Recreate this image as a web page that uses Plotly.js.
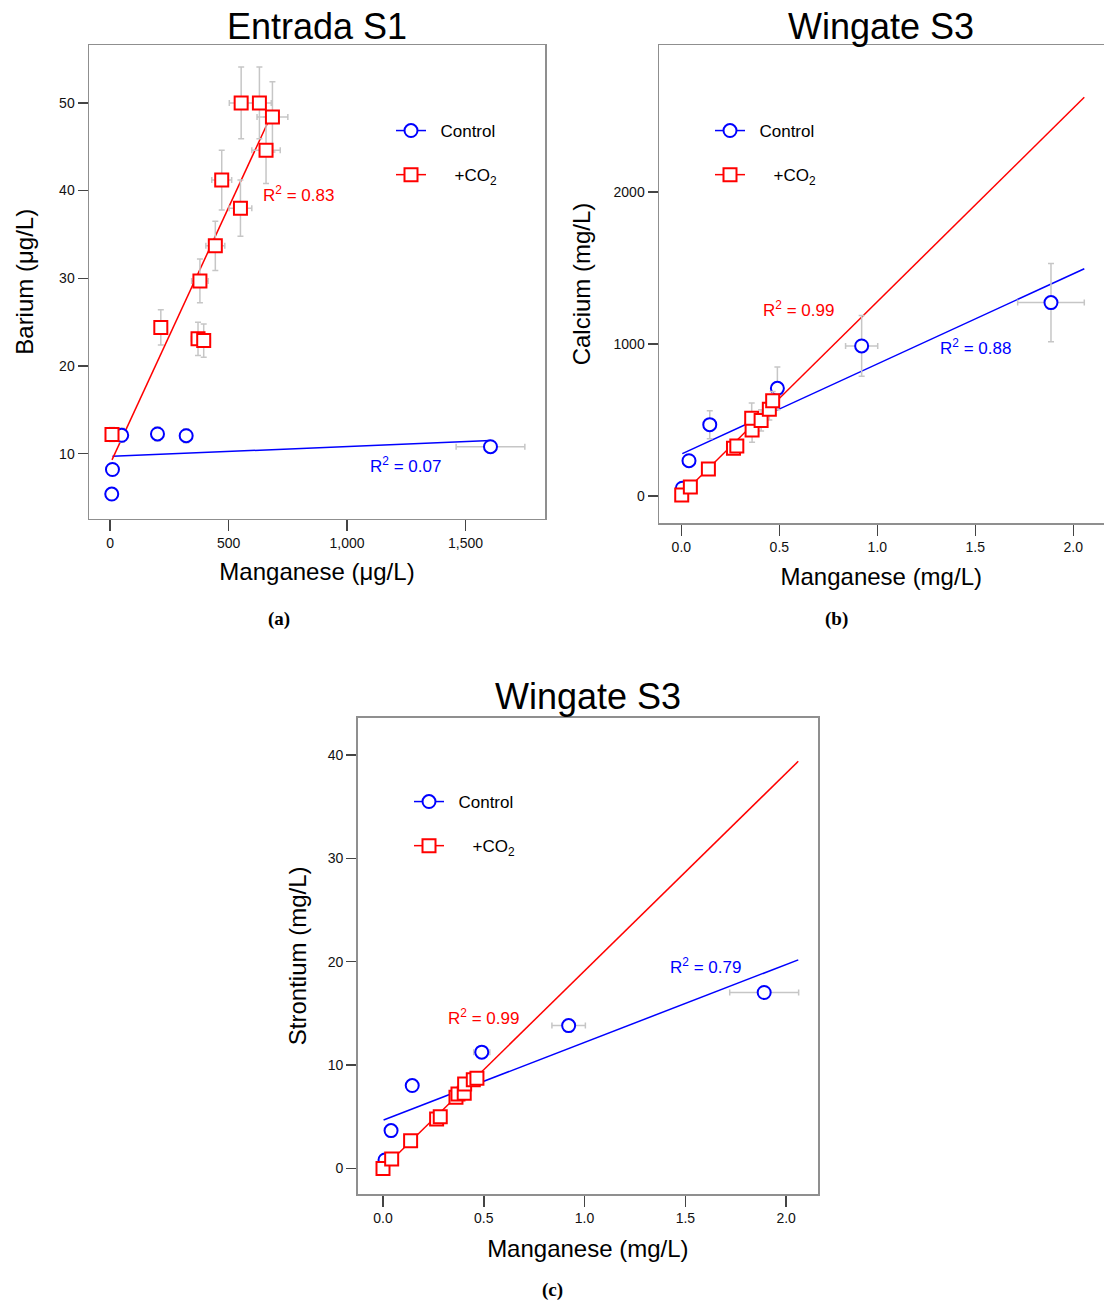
<!DOCTYPE html>
<html>
<head>
<meta charset="utf-8">
<script src="https://cdn.plot.ly/plotly-3.0.1.min.js"></script>
<style>html,body{margin:0;padding:0;background:#fff;}#chart{width:1104px;height:1301px;}</style>
</head>
<body>
<div id="chart"></div>
<script>
// ---------- Panel (a): Entrada S1, Barium vs Manganese (µg/L) ----------
var ctrlA_x    = [10, 7, 49, 200, 321, 1605];
var ctrlA_y    = [8.2, 5.4, 12.1, 12.25, 12.05, 10.8];
var ctrlA_xerr = [3, 3, 12, 15, 15, 145];
var ctrlA_yerr = [0.3, 0.3, 0.8, 0.8, 0.8, 0.3];

var co2A_x    = [8, 214, 371, 395, 379, 444, 550, 471, 658, 553, 630, 685];
var co2A_y    = [12.2, 24.4, 23.1, 22.9, 29.7, 33.7, 38.0, 41.2, 44.6, 50.0, 50.0, 48.4];
var co2A_xerr = [15, 10, 28, 28, 35, 40, 48, 42, 60, 50, 50, 65];
var co2A_yerr = [0.8, 2.0, 1.9, 1.9, 2.5, 2.8, 3.2, 3.4, 3.8, 4.1, 4.1, 4.0];

var fitCtrlA_x = [10, 1605];
var fitCtrlA_y = [9.7, 11.5];
var fitCo2A_x  = [8, 685];
var fitCo2A_y  = [9.3, 48.9];

// ---------- Panel (b): Wingate S3, Calcium vs Manganese (mg/L) ----------
var ctrlB_x    = [0.005, 0.039, 0.145, 0.49, 0.92, 1.886];
var ctrlB_y    = [51, 232, 469, 708, 987, 1272];
var ctrlB_xerr = [0.005, 0.01, 0.01, 0.02, 0.082, 0.17];
var ctrlB_yerr = [10, 20, 92, 141, 200, 258];

var co2B_x    = [0.002, 0.046, 0.138, 0.266, 0.283, 0.361, 0.359, 0.407, 0.449, 0.466];
var co2B_y    = [6, 59, 178, 314, 329, 434, 511, 497, 570, 627];
var co2B_xerr = [0.003, 0.005, 0.008, 0.01, 0.01, 0.015, 0.015, 0.02, 0.02, 0.02];
var co2B_yerr = [5, 10, 20, 40, 40, 80, 100, 70, 70, 60];

var fitCtrlB_x = [0.005, 2.056];
var fitCtrlB_y = [278, 1495];
var fitCo2B_x  = [0.0, 2.056];
var fitCo2B_y  = [5, 2623];

// ---------- Panel (c): Wingate S3, Strontium vs Manganese (mg/L) ----------
var ctrlC_x    = [0.01, 0.04, 0.145, 0.49, 0.921, 1.891];
var ctrlC_y    = [0.82, 3.66, 8.02, 11.25, 13.82, 17.02];
var ctrlC_xerr = [0.005, 0.005, 0.01, 0.04, 0.083, 0.171];
var ctrlC_yerr = [0.1, 0.1, 0.2, 0.2, 0.2, 0.2];

var co2C_x    = [0.0, 0.043, 0.137, 0.266, 0.284, 0.362, 0.372, 0.403, 0.405, 0.448, 0.466];
var co2C_y    = [0.0, 0.92, 2.69, 4.79, 5.01, 6.89, 7.21, 7.28, 8.18, 8.57, 8.73];
var co2C_xerr = [0.003, 0.005, 0.008, 0.01, 0.01, 0.015, 0.015, 0.02, 0.02, 0.03, 0.03];
var co2C_yerr = [0.1, 0.1, 0.1, 0.15, 0.15, 0.2, 0.2, 0.2, 0.2, 0.2, 0.2];

var fitCtrlC_x = [0.003, 2.06];
var fitCtrlC_y = [4.69, 20.18];
var fitCo2C_x  = [0.0, 2.06];
var fitCo2C_y  = [0.0, 39.38];

// ---------- Labels ----------
var panelTitles = ['Entrada S1', 'Wingate S3', 'Wingate S3'];
var xTitles = ['Manganese (\u03bcg/L)', 'Manganese (mg/L)', 'Manganese (mg/L)'];
var yTitles = ['Barium (\u03bcg/L)', 'Calcium (mg/L)', 'Strontium (mg/L)'];
var captions = ['(a)', '(b)', '(c)'];
var seriesNames = ['\u00a0\u00a0Control', '\u00a0\u00a0\u00a0\u00a0\u00a0+CO<sub>2</sub>'];
var r2Ctrl = ['0.07', '0.88', '0.79'];
var r2Co2  = ['0.83', '0.99', '0.99'];

var BLUE = '#0000ff', RED = '#ff0000', ERR = '#c6c6c6';
var FONT = 'Liberation Sans, Arial, sans-serif';

function errObj(arr) {
  return {type: 'data', array: arr, visible: true, color: ERR, thickness: 1.5, width: 3};
}
function panel(ax, ay, legendId, fitC_x, fitC_y, fitR_x, fitR_y, cx, cy, cxe, cye, rx, ry, rxe, rye) {
  return [
    {x: fitC_x, y: fitC_y, xaxis: ax, yaxis: ay, mode: 'lines', line: {color: BLUE, width: 1.5}, showlegend: false, hoverinfo: 'skip'},
    {x: fitR_x, y: fitR_y, xaxis: ax, yaxis: ay, mode: 'lines', line: {color: RED, width: 1.5}, showlegend: false, hoverinfo: 'skip'},
    {x: cx, y: cy, xaxis: ax, yaxis: ay, mode: 'markers', showlegend: false,
     marker: {symbol: 'circle', size: 13, color: 'white', line: {color: BLUE, width: 2}},
     error_x: errObj(cxe), error_y: errObj(cye)},
    {x: rx, y: ry, xaxis: ax, yaxis: ay, mode: 'markers', showlegend: false,
     marker: {symbol: 'square', size: 13, color: 'white', line: {color: RED, width: 2}},
     error_x: errObj(rxe), error_y: errObj(rye)},
    {x: [null], y: [null], xaxis: ax, yaxis: ay, mode: 'lines+markers', name: seriesNames[0],
     legend: legendId, legendgroup: legendId + 'c', showlegend: true,
     line: {color: BLUE, width: 1.5}, marker: {symbol: 'circle', size: 13, color: 'white', line: {color: BLUE, width: 2}}},
    {x: [null], y: [null], xaxis: ax, yaxis: ay, mode: 'lines+markers', name: seriesNames[1],
     legend: legendId, legendgroup: legendId + 'r', showlegend: true,
     line: {color: RED, width: 1.5}, marker: {symbol: 'square', size: 13, color: 'white', line: {color: RED, width: 2}}}
  ];
}

var data = []
  .concat(panel('x', 'y', 'legend', fitCtrlA_x, fitCtrlA_y, fitCo2A_x, fitCo2A_y,
                ctrlA_x, ctrlA_y, ctrlA_xerr, ctrlA_yerr, co2A_x, co2A_y, co2A_xerr, co2A_yerr))
  .concat(panel('x2', 'y2', 'legend2', fitCtrlB_x, fitCtrlB_y, fitCo2B_x, fitCo2B_y,
                ctrlB_x, ctrlB_y, ctrlB_xerr, ctrlB_yerr, co2B_x, co2B_y, co2B_xerr, co2B_yerr))
  .concat(panel('x3', 'y3', 'legend3', fitCtrlC_x, fitCtrlC_y, fitCo2C_x, fitCo2C_y,
                ctrlC_x, ctrlC_y, ctrlC_xerr, ctrlC_yerr, co2C_x, co2C_y, co2C_xerr, co2C_yerr));

var W = 1104, H = 1301;
function px(v) { return v / W; }
function py(v) { return 1 - v / H; }

function axisBase(extra) {
  var a = {
    showline: true, mirror: true, linecolor: '#8f8f8f', linewidth: 1.5,
    ticks: 'outside', ticklen: 11, tickwidth: 1.5, tickcolor: '#444',
    showgrid: false, zeroline: false, tickfont: {family: FONT, size: 14, color: '#111'},
    fixedrange: true
  };
  for (var k in extra) a[k] = extra[k];
  return a;
}

var legendBase = function (x, y) {
  return {x: x, y: y, xanchor: 'left', yanchor: 'top', bgcolor: 'rgba(0,0,0,0)', borderwidth: 0,
          font: {family: FONT, size: 17, color: '#000'}, tracegroupgap: 19, itemclick: false};
};

var dom = {
  a: {x: [px(89), px(545)], y: [py(518.6), py(45)]},
  b: {x: [px(659), px(1103.5)], y: [py(523), py(45)]},
  c: {x: [px(357.7), px(818)], y: [py(1194), py(717.7)]}
};

var layout = {
  width: W, height: H,
  margin: {l: 0, r: 0, t: 0, b: 0},
  paper_bgcolor: 'white', plot_bgcolor: 'white',
  font: {family: FONT, color: '#000'},
  showlegend: true,
  xaxis: axisBase({domain: dom.a.x, anchor: 'y', range: [-89, 1835], tickvals: [0, 500, 1000, 1500], tickformat: ',d',
                   title: {text: xTitles[0], font: {size: 24, family: FONT}, standoff: 13}}),
  yaxis: axisBase({domain: dom.a.y, anchor: 'x', range: [2.6, 56.6], tickvals: [10, 20, 30, 40, 50], ticklen: 10,
                   title: {text: yTitles[0], font: {size: 24, family: FONT}, standoff: 18}}),
  xaxis2: axisBase({domain: dom.b.x, anchor: 'y2', range: [-0.114, 2.154], tickvals: [0, 0.5, 1, 1.5, 2], tickformat: '.1f',
                    title: {text: xTitles[1], font: {size: 24, family: FONT}, standoff: 14}}),
  yaxis2: axisBase({domain: dom.b.y, anchor: 'x2', range: [-178, 2967], tickvals: [0, 1000, 2000], tickformat: 'd', ticklen: 10,
                    title: {text: yTitles[1], font: {size: 24, family: FONT}, standoff: 16}}),
  xaxis3: axisBase({domain: dom.c.x, anchor: 'y3', range: [-0.1255, 2.158], tickvals: [0, 0.5, 1, 1.5, 2], tickformat: '.1f',
                    title: {text: xTitles[2], font: {size: 24, family: FONT}, standoff: 15}}),
  yaxis3: axisBase({domain: dom.c.y, anchor: 'x3', range: [-2.47, 43.6], tickvals: [0, 10, 20, 30, 40], ticklen: 10,
                    title: {text: yTitles[2], font: {size: 24, family: FONT}, standoff: 14}}),
  legend: legendBase(px(391), py(113)),
  legend2: legendBase(px(710), py(113)),
  legend3: legendBase(px(409), py(784)),
  annotations: [
    {text: panelTitles[0], xref: 'paper', yref: 'paper', x: px(317), y: py(26), xanchor: 'center', yanchor: 'middle', showarrow: false, font: {size: 36, family: FONT}},
    {text: panelTitles[1], xref: 'paper', yref: 'paper', x: px(881), y: py(26), xanchor: 'center', yanchor: 'middle', showarrow: false, font: {size: 36, family: FONT}},
    {text: panelTitles[2], xref: 'paper', yref: 'paper', x: px(588), y: py(696), xanchor: 'center', yanchor: 'middle', showarrow: false, font: {size: 36, family: FONT}},
    {text: captions[0], xref: 'paper', yref: 'paper', x: px(279), y: py(619), xanchor: 'center', yanchor: 'middle', showarrow: false, font: {size: 19, family: 'Liberation Serif, serif', weight: 'bold'}},
    {text: captions[1], xref: 'paper', yref: 'paper', x: px(836), y: py(619), xanchor: 'center', yanchor: 'middle', showarrow: false, font: {size: 19, family: 'Liberation Serif, serif', weight: 'bold'}},
    {text: captions[2], xref: 'paper', yref: 'paper', x: px(552), y: py(1290), xanchor: 'center', yanchor: 'middle', showarrow: false, font: {size: 19, family: 'Liberation Serif, serif', weight: 'bold'}},
    {text: 'R<sup>2</sup> = ' + r2Co2[0], xref: 'x', yref: 'y', x: 797, y: 39.6, xanchor: 'center', yanchor: 'middle', showarrow: false, font: {size: 17, color: RED, family: FONT}},
    {text: 'R<sup>2</sup> = ' + r2Ctrl[0], xref: 'x', yref: 'y', x: 1245, y: 8.74, xanchor: 'center', yanchor: 'middle', showarrow: false, font: {size: 17, color: BLUE, family: FONT}},
    {text: 'R<sup>2</sup> = ' + r2Co2[1], xref: 'x2', yref: 'y2', x: 0.60, y: 1230, xanchor: 'center', yanchor: 'middle', showarrow: false, font: {size: 17, color: RED, family: FONT}},
    {text: 'R<sup>2</sup> = ' + r2Ctrl[1], xref: 'x2', yref: 'y2', x: 1.499, y: 980, xanchor: 'center', yanchor: 'middle', showarrow: false, font: {size: 17, color: BLUE, family: FONT}},
    {text: 'R<sup>2</sup> = ' + r2Co2[2], xref: 'x3', yref: 'y3', x: 0.501, y: 14.67, xanchor: 'center', yanchor: 'middle', showarrow: false, font: {size: 17, color: RED, family: FONT}},
    {text: 'R<sup>2</sup> = ' + r2Ctrl[2], xref: 'x3', yref: 'y3', x: 1.602, y: 19.63, xanchor: 'center', yanchor: 'middle', showarrow: false, font: {size: 17, color: BLUE, family: FONT}}
  ]
};

Plotly.newPlot('chart', data, layout, {displayModeBar: false, staticPlot: true});
</script>
</body>
</html>
